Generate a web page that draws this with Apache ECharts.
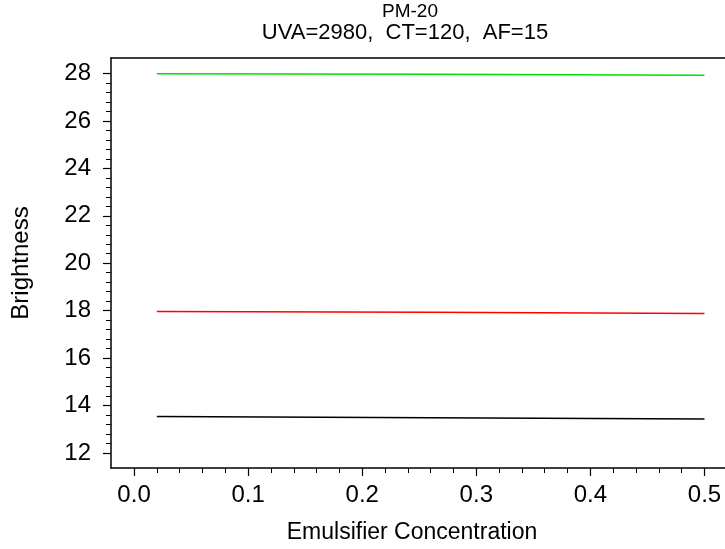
<!DOCTYPE html>
<html><head><meta charset="utf-8">
<script src="https://cdn.jsdelivr.net/npm/echarts@6/dist/echarts.min.js"></script>
<style>html,body{margin:0;padding:0;background:#fff}#c{width:725px;height:549px}</style>
</head><body><div id="c"></div>
<script>
const titleLines = ["PM-20", "UVA=2980,  CT=120,  AF=15"];
const xName = "Emulsifier Concentration";
const yName = "Brightness";
const xValues = [0.02, 0.26, 0.5];
const greenSeries = [27.99, 27.96, 27.92];
const redSeries = [17.97, 17.93, 17.88];
const blackSeries = [13.54, 13.49, 13.44];
const xMajorTicks = [0, 0.1, 0.2, 0.3, 0.4, 0.5];
const xMinorTicks = [0.02,0.04,0.06,0.08,0.12,0.14,0.16,0.18,0.22,0.24,0.26,0.28,0.32,0.34,0.36,0.38,0.42,0.44,0.46,0.48];
const yMajorTicks = [12, 14, 16, 18, 20, 22, 24, 26, 28];
const yMinorTicks = [];
for (let i = 0; i < 8; i++) for (let k = 1; k < 5; k++) yMinorTicks.push(+(12 + i*2 + k*0.4).toFixed(1));

const FONT = "Liberation Sans, Arial, sans-serif";
const X_MIN = -0.0202, X_MAX = 0.518, Y_MIN = 11.37, Y_MAX = 28.65;
const pair = v => xValues.map((x, i) => [x, v[i]]);
const chart = echarts.init(document.getElementById('c'), null, {renderer: 'canvas'});
chart.setOption({
  animation: false,
  title: [
    {text: titleLines[0], left: 410, top: 2, padding: 0, textAlign: 'center',
     textStyle: {fontFamily: FONT, fontSize: 19, fontWeight: 'normal', color: '#000', lineHeight: 19}},
    {text: titleLines[1], left: 405, top: 22, padding: 0, textAlign: 'center',
     textStyle: {fontFamily: FONT, fontSize: 22, fontWeight: 'normal', color: '#000', lineHeight: 22}}
  ],
  grid: {left: 111, top: 58, right: 0, bottom: 76, containLabel: false},
  xAxis: [
    {type: 'value', min: X_MIN, max: X_MAX, position: 'bottom',
     name: xName, nameLocation: 'middle', nameGap: 53,
     nameTextStyle: {fontFamily: FONT, fontSize: 23, color: '#000', padding: [0, 12, 0, 0]},
     axisLine: {show: true, onZero: false, lineStyle: {color: '#000', width: 1.5}},
     axisTick: {show: true, customValues: xMajorTicks, length: 8, inside: false, lineStyle: {color: '#000', width: 1.2}},
     axisLabel: {customValues: xMajorTicks, formatter: v => v.toFixed(1), margin: 15, fontFamily: FONT, fontSize: 24, color: '#000'},
     splitLine: {show: false}},
    {type: 'value', min: X_MIN, max: X_MAX, position: 'bottom',
     axisLine: {show: false, onZero: false},
     axisTick: {show: true, customValues: xMinorTicks, length: 5, lineStyle: {color: '#000', width: 1}},
     axisLabel: {show: false}, splitLine: {show: false}},
    {type: 'value', min: X_MIN, max: X_MAX, position: 'top',
     axisLine: {show: true, onZero: false, lineStyle: {color: '#000', width: 1.5}},
     axisTick: {show: false}, axisLabel: {show: false}, splitLine: {show: false}}
  ],
  yAxis: [
    {type: 'value', min: Y_MIN, max: Y_MAX, position: 'left',
     name: yName, nameLocation: 'middle', nameGap: 78, nameRotate: 90,
     nameTextStyle: {fontFamily: FONT, fontSize: 24, color: '#000'},
     axisLine: {show: true, onZero: false, lineStyle: {color: '#000', width: 1.5}},
     axisTick: {show: true, customValues: yMajorTicks, length: 8, lineStyle: {color: '#000', width: 1.2}},
     axisLabel: {customValues: yMajorTicks, margin: 20, fontFamily: FONT, fontSize: 24, color: '#000'},
     splitLine: {show: false}},
    {type: 'value', min: Y_MIN, max: Y_MAX, position: 'left',
     axisLine: {show: false, onZero: false},
     axisTick: {show: true, customValues: yMinorTicks, length: 5, lineStyle: {color: '#000', width: 1}},
     axisLabel: {show: false}, splitLine: {show: false}}
  ],
  series: [
    {type: 'line', data: pair(greenSeries), showSymbol: false, lineStyle: {color: '#00e000', width: 1.5}, xAxisIndex: 0, yAxisIndex: 0},
    {type: 'line', data: pair(redSeries), showSymbol: false, lineStyle: {color: '#ff0000', width: 1.5}, xAxisIndex: 0, yAxisIndex: 0},
    {type: 'line', data: pair(blackSeries), showSymbol: false, lineStyle: {color: '#000000', width: 1.5}, xAxisIndex: 0, yAxisIndex: 0}
  ]
});
</script></body></html>
